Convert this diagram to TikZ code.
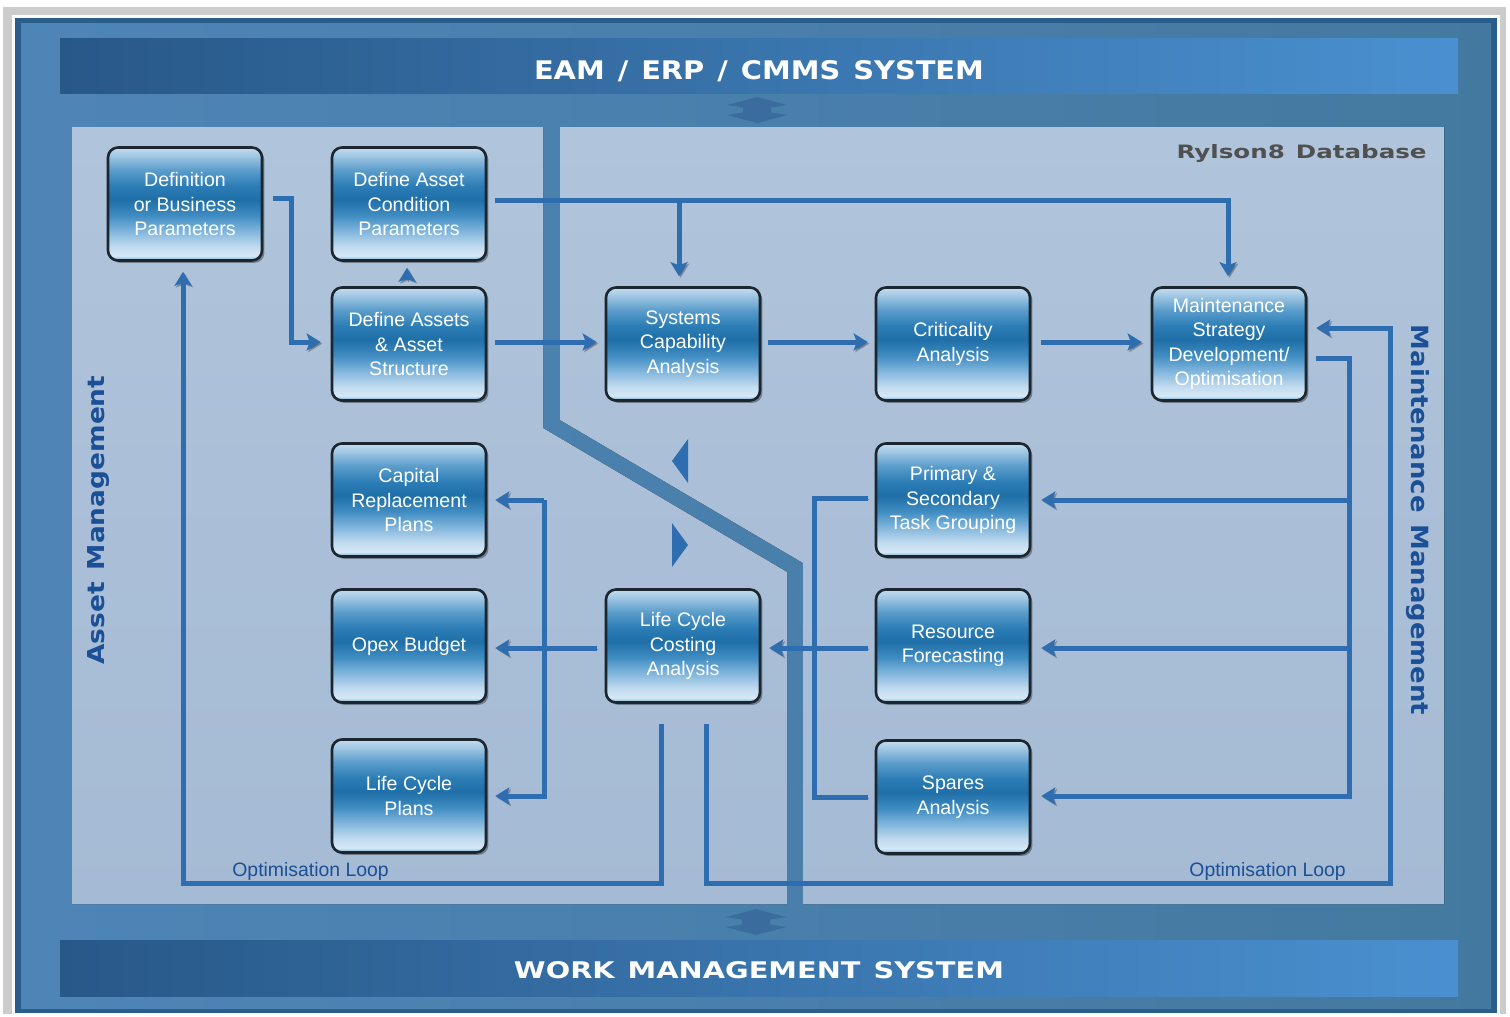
\documentclass[tikz,border=0pt]{standalone}
\usepackage{fontspec}
\setmainfont{Liberation Sans}
\newfontfamily\headfont{DejaVu Sans}
\usetikzlibrary{calc,arrows.meta,shadows}
\definecolor{outerg}{HTML}{CCCCCC}
\definecolor{framec}{HTML}{2A5D8C}
\definecolor{bgL}{HTML}{4E85B7}
\definecolor{bgR}{HTML}{44799F}
\definecolor{banL}{HTML}{285888}
\definecolor{banR}{HTML}{4A90D0}
\definecolor{panT}{HTML}{B0C4DB}
\definecolor{panB}{HTML}{A5BAD4}
\definecolor{connc}{HTML}{2E6DB0}
\definecolor{shadc}{HTML}{2F3E4E}
\definecolor{sidec}{HTML}{1B4F96}
\definecolor{dbc}{HTML}{505050}
\definecolor{dblc}{HTML}{3A6D9E}
\definecolor{boxedge}{HTML}{1C2630}
\definecolor{bxA}{HTML}{6AA6D0}
\definecolor{bxB}{HTML}{D5E8F5}
\definecolor{bxC}{HTML}{C2DCEF}
\definecolor{bxD}{HTML}{8ABBE0}
\definecolor{bxE}{HTML}{3F8CC2}
\definecolor{bxF}{HTML}{1F6EA7}
\definecolor{bxG}{HTML}{2C7DB6}
\definecolor{bxH}{HTML}{5B9DCB}
\definecolor{bxI}{HTML}{A7CBE6}
\definecolor{bxJ}{HTML}{C4DCEE}
\pgfdeclareverticalshading{boxshade}{100bp}{color(0bp)=(bxA); color(25bp)=(bxA); color(27bp)=(bxB); color(31bp)=(bxC); color(37bp)=(bxD); color(45bp)=(bxE); color(52bp)=(bxF); color(58bp)=(bxG); color(65bp)=(bxH); color(72bp)=(bxI); color(75bp)=(bxJ); color(100bp)=(bxJ)}
\begin{document}
\begin{tikzpicture}[x=0.5pt,y=-0.5pt,
  box/.style={draw=boxedge, line width=1.3pt, rounded corners=5pt, shade, shading=boxshade,
    minimum width=77pt, minimum height=56.5pt, inner sep=2pt, text=white, align=center,
    font=\fontsize{9.8pt}{12.2pt}\selectfont,
    drop shadow={shadow xshift=1.2pt, shadow yshift=-1.2pt, opacity=0.35, fill=black}},
  banner/.style={left color=banL, right color=banR, minimum width=699pt, text=white, inner sep=0pt},
  conn/.style={line width=2.5pt, draw=connc,
    preaction={draw=shadc, opacity=0.4, transform canvas={xshift=0.8pt,yshift=-0.8pt}}},
  arr/.style={conn, -{Stealth[length=7pt,width=8.5pt,inset=1.5pt]}},
  looplbl/.style={text=sidec, font=\fontsize{9.7pt}{11pt}\selectfont, inner sep=0pt},
  dblarrow/.style={fill=dblc}
]
\useasboundingbox (0,0) rectangle (1510,1017);
% frame
\fill[white] (0,0) rectangle (1510,1017);
\fill[outerg] (3,7) rectangle (1506,1014);
\fill[white!90!outerg] (12,15) rectangle (1500,1014);
\fill[framec] (15,18) rectangle (1497,1013);
\fill[left color=bgL, right color=bgR] (21,23) rectangle (1491,1008);
% panels
\fill[top color=panT, bottom color=panB] (72,127) -- (543,127) -- (543,428) -- (787,572) -- (787,904) -- (72,904) -- cycle;
\fill[top color=panT, bottom color=panB] (560,127) -- (1444,127) -- (1444,904) -- (803,904) -- (803,563) -- (560,420) -- cycle;
% banners
\node[banner, minimum height=27.5pt, text height=14pt, text depth=0pt] (top) at (759,65.5)
  {\resizebox{225pt}{9.5pt}{\headfont\bfseries EAM\hspace{.45em}/\hspace{.45em}ERP\hspace{.45em}/\hspace{.45em}CMMS\hspace{.45em}SYSTEM}};
\node[banner, minimum height=28pt, text height=10.5pt, text depth=0pt] (bot) at (759,968)
  {\resizebox{245pt}{8.5pt}{\headfont\bfseries WORK\hspace{.45em}MANAGEMENT\hspace{.45em}SYSTEM}};
% double arrows
\fill[dblarrow] (757,97) -- (787,105) -- (771,107.5) -- (771,112.5) -- (787,115) -- (757,123) -- (727,115) -- (743,112.5) -- (743,107.5) -- (727,105) -- cycle;
\fill[dblarrow] (756,909) -- (786,917) -- (770,919.5) -- (770,924.5) -- (786,927) -- (756,935) -- (726,927) -- (742,924.5) -- (742,919.5) -- (726,917) -- cycle;
% direction triangles
\fill[connc] (672,461) -- (688,439) -- (688,483) -- cycle;
\fill[connc] (688,545) -- (672,523) -- (672,567) -- cycle;
% side texts
\node[rotate=90, text=sidec, inner sep=0pt] (am) at (99,520)
  {\resizebox{144.5pt}{8.5pt}{\headfont\bfseries Asset\hspace{.45em}Management}};
\node[rotate=-90, text=sidec, inner sep=0pt] (mm) at (1418,520)
  {\resizebox{195pt}{9pt}{\headfont\bfseries Maintenance\hspace{.45em}Management}};
\node[anchor=east, text=dbc, inner sep=0pt] (db) at (1427,153)
  {\resizebox{125pt}{7pt}{\headfont\bfseries Rylson8\hspace{.45em}Database}};
% boxes
\node[box] (b1) at (185,204) {Definition\\or Business\\Parameters};
\node[box] (b2) at (409,204) {Define Asset\\Condition\\Parameters};
\node[box] (b3) at (409,344) {Define Assets\\\& Asset\\Structure};
\node[box] (b4) at (683,344) {Systems\\Capability\\Analysis};
\node[box] (b5) at (953,344) {Criticality\\Analysis};
\node[box] (b6) at (1229,344) {Maintenance\\Strategy\\Development/\\Optimisation};
\node[box] (b7) at (409,500) {Capital\\Replacement\\Plans};
\node[box] (b8) at (953,500) {Primary \&\\Secondary\\Task Grouping};
\node[box] (b9) at (409,646) {Opex Budget};
\node[box] (b10) at (683,646) {Life Cycle\\Costing\\Analysis};
\node[box] (b11) at (953,646) {Resource\\Forecasting};
\node[box] (b12) at (409,796) {Life Cycle\\Plans};
\node[box] (b13) at (953,797) {Spares\\Analysis};
% loop labels
\node[looplbl, anchor=base west] (ol1) at (232,876) {Optimisation Loop};
\node[looplbl, anchor=base west] (ol2) at (1189,876) {Optimisation Loop};
% coordinates
\coordinate (loopL) at (183,883);
\coordinate (loopR) at (1390,883);
\coordinate (j) at ($(b2.east)+(8,-4)$);
% connectors
\draw[arr] ($(b1.east)+(10,-6)$) -- ++(18,0) |- ($(b3.west)+(-10,-2)$);
\draw[arr] ($(b3.north)+(-2,-6)$) -- ($(b2.south)+(-2,6)$);
\draw[arr] (j) -| ($(b6.north)+(-1,-10)$);
\draw[arr] ($(b4.north |- j)+(-4,0)$) -- ($(b4.north)+(-4,-10)$);
\draw[arr] ($(b3.east)+(8,-2)$) -- ($(b4.west)+(-8,-2)$);
\draw[arr] ($(b4.east)+(7,-2)$) -- ($(b5.west)+(-7,-2)$);
\draw[arr] ($(b5.east)+(10,-2)$) -- ($(b6.west)+(-9,-2)$);
\draw[arr] ($(b10.south)+(23,20)$) |- (loopR) |- ($(b6.east)+(9,-16)$);
\draw[arr] ($(b6.east)+(9,14)$) -| ($(b13.east)+(318,-1)$) -- ($(b13.east)+(10,-1)$);
\draw[arr] ($(b8.east)+(318,0)$) -- ($(b8.east)+(10,0)$);
\draw[arr] ($(b11.east)+(318,2)$) -- ($(b11.east)+(10,2)$);
\draw[conn] ($(b8.west)+(-7,-2)$) -| ($(b13.west)+(-60,0)$) -- ($(b13.west)+(-7,0)$);
\draw[arr] ($(b11.west)+(-7,2)$) -- ($(b10.east)+(8,2)$);
\draw[arr] ($(b10.west)+(-8,2)$) -- ($(b9.east)+(8,2)$);
\draw[arr] ($(b7.east)+(57,0)$) -- ($(b7.east)+(8,0)$);
\draw[arr] ($(b7.east)+(57,0)$) |- ($(b12.east)+(8,0)$);
\draw[arr] ($(b10.south)+(-22,20)$) |- (loopL) -- ($(b1.south)+(-2,10)$);
\end{tikzpicture}
\end{document}
